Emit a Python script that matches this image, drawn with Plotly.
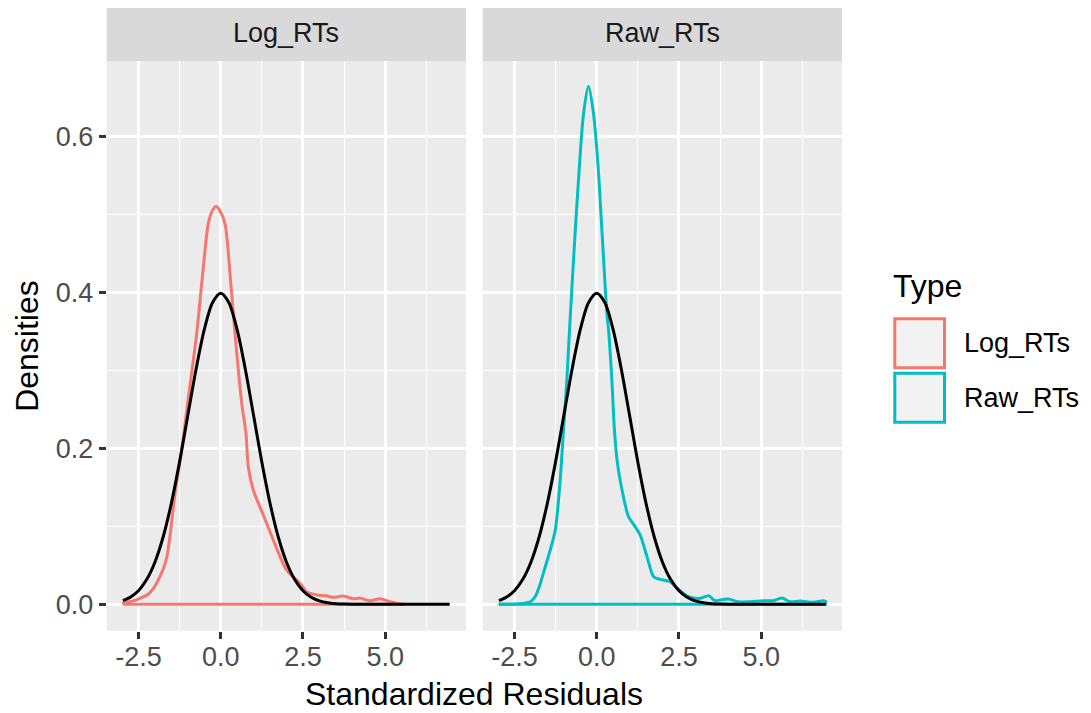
import plotly.graph_objects as go

# page body has an 8px margin: the paper is laid out in reference pixels minus OFF
OFF = 8
W, H = 1091 - OFF, 713 - OFF

# ---------------- data ----------------
panels = ["Log_RTs", "Raw_RTs"]
x_tick_vals = [-2.5, 0.0, 2.5, 5.0]
x_tick_text = ["-2.5", "0.0", "2.5", "5.0"]
x_minor_vals = [-1.25, 1.25, 3.75, 6.25]
y_tick_vals = [0.0, 0.2, 0.4, 0.6]
y_tick_text = ["0.0", "0.2", "0.4", "0.6"]
y_minor_vals = [0.1, 0.3, 0.5]

# Log_RTs density
log_x = [-2.97, -2.96, -2.6, -2.35, -2.2, -2.05, -1.9, -1.75, -1.64, -1.54, -1.39,
         -1.185, -0.985, -0.73, -0.547, -0.377, -0.25, -0.143, -0.03, 0.13, 0.283,
         0.435, 0.638, 0.769, 0.84, 0.99, 1.295, 1.6, 2.0, 2.31, 2.45, 2.61, 2.92,
         3.2, 3.42, 3.73, 4.03, 4.23, 4.54, 4.84, 5.15, 5.45, 5.6]
log_y = [0.0, 0.0013, 0.005, 0.0097, 0.013, 0.02, 0.031, 0.045, 0.060, 0.088, 0.142,
         0.198, 0.264, 0.347, 0.424, 0.488, 0.505, 0.510, 0.505, 0.488, 0.424,
         0.347, 0.258, 0.219, 0.176, 0.1465, 0.1145, 0.0824, 0.044, 0.031, 0.025, 0.016, 0.012,
         0.011, 0.009, 0.0106, 0.0072, 0.008, 0.0046, 0.0072, 0.0033, 0.0004, 0.0]
log_base_x = [-2.97, 5.6]

# Raw_RTs density
raw_x = [-2.98, -2.43, -2.2, -2.02, -1.87, -1.75, -1.62, -1.41, -1.26, -1.11, -1.01,
         -0.906, -0.826, -0.65, -0.52, -0.40, -0.25, -0.097, 0.036, 0.158, 0.31,
         0.36, 0.46, 0.54, 0.63, 0.77, 0.97, 1.17, 1.32, 1.53, 1.73, 1.93, 2.23,
         2.44, 2.74, 2.95, 3.15, 3.40, 3.6, 3.8, 4.0, 4.31, 4.67, 5.07, 5.37, 5.63,
         5.88, 6.19, 6.59, 6.89, 7.0]
raw_y = [0.0, 0.0004, 0.0015, 0.0033, 0.0097, 0.022, 0.040, 0.070, 0.095, 0.159, 0.223,
         0.288, 0.352, 0.48, 0.565, 0.629, 0.664, 0.629, 0.565, 0.48, 0.373,
         0.352, 0.288, 0.223, 0.181, 0.1465, 0.112, 0.0995, 0.089, 0.061, 0.0354, 0.032, 0.029,
         0.021, 0.011, 0.008, 0.0077, 0.011, 0.0046, 0.006, 0.0068, 0.0033, 0.0033, 0.0046, 0.0046, 0.008,
         0.0033, 0.0042, 0.0026, 0.0046, 0.003]
raw_base_x = [-2.98, 7.0]

# reference standard-normal curve (black), values read at these x
norm_x = [-2.97, -2.75, -2.5, -2.25, -2.0, -1.75, -1.5, -1.25, -1.0, -0.75, -0.5, -0.25,
          0.0, 0.25, 0.5, 0.75, 1.0, 1.25, 1.5, 1.75, 2.0, 2.25, 2.5, 2.75, 3.0, 3.25,
          3.5, 3.75, 4.0, 4.5, 5.0, 6.0, 6.96]
norm_y = [0.0048, 0.0091, 0.0175, 0.0317, 0.0540, 0.0863, 0.1295, 0.1826, 0.2420, 0.3011,
          0.3521, 0.3867, 0.3989, 0.3867, 0.3521, 0.3011, 0.2420, 0.1826, 0.1295, 0.0863,
          0.0540, 0.0317, 0.0175, 0.0091, 0.0044, 0.0020, 0.0009, 0.00035, 0.00013,
          0.00002, 0.0, 0.0, 0.0]

legend_title = "Type"
colors = {"Log_RTs": "#F8766D", "Raw_RTs": "#00BFC4"}

# ---------------- figure ----------------
FONT = "Liberation Sans, Arial, Helvetica, sans-serif"
LW = 3
SMALL = 27
BIG = 32


def px(x):
    return (x - OFF) / W


def py(y):
    return 1 - (y - OFF) / H


fig = go.Figure()

# Log panel
fig.add_trace(go.Scatter(x=log_base_x, y=[0, 0], mode="lines", line=dict(color=colors["Log_RTs"], width=LW),
                         xaxis="x", yaxis="y", showlegend=False, hoverinfo="skip"))
fig.add_trace(go.Scatter(x=log_x, y=log_y, mode="lines", line=dict(color=colors["Log_RTs"], width=LW,
                         shape="spline", smoothing=0.8), xaxis="x", yaxis="y", showlegend=False))
fig.add_trace(go.Scatter(x=norm_x, y=norm_y, mode="lines", line=dict(color="black", width=LW,
                         shape="spline", smoothing=0.8), xaxis="x", yaxis="y", showlegend=False))
# Raw panel
fig.add_trace(go.Scatter(x=raw_base_x, y=[0, 0], mode="lines", line=dict(color=colors["Raw_RTs"], width=LW),
                         xaxis="x2", yaxis="y2", showlegend=False, hoverinfo="skip"))
fig.add_trace(go.Scatter(x=raw_x, y=raw_y, mode="lines", line=dict(color=colors["Raw_RTs"], width=LW,
                         shape="spline", smoothing=0.8), xaxis="x2", yaxis="y2", showlegend=False))
fig.add_trace(go.Scatter(x=norm_x, y=norm_y, mode="lines", line=dict(color="black", width=LW,
                         shape="spline", smoothing=0.8), xaxis="x2", yaxis="y2", showlegend=False))

x_range = [-3.465, 7.456]
y_range = [-0.0338, 0.6965]

panel_left = [106.7, 482.7]
panel_right = [466.0, 842.0]
panel_top, panel_bottom = 61.0, 630.7
strip_top = 6.0

TICK_FONT = dict(family=FONT, size=SMALL, color="#4D4D4D")


def xaxis_cfg(i):
    return dict(domain=[px(panel_left[i]), px(panel_right[i])], range=x_range,
                anchor="y" if i == 0 else "y2",
                tickmode="array", tickvals=x_tick_vals, ticktext=x_tick_text,
                ticks="outside", ticklen=7, tickwidth=2.5, tickcolor="#333333",
                ticklabelstandoff=-5,
                tickfont=TICK_FONT, showgrid=True, gridcolor="white", gridwidth=2.6,
                minor=dict(tickvals=x_minor_vals, showgrid=True, gridcolor="white", gridwidth=1.3, ticks=""),
                zeroline=False, showline=False, fixedrange=True)


def yaxis_cfg(i):
    return dict(domain=[py(panel_bottom), py(panel_top)], range=y_range,
                anchor="x" if i == 0 else "x2",
                tickmode="array", tickvals=y_tick_vals, ticktext=y_tick_text,
                ticks="outside" if i == 0 else "", ticklen=7, tickwidth=2.5, tickcolor="#333333",
                showticklabels=(i == 0),
                tickfont=TICK_FONT, showgrid=True, gridcolor="white", gridwidth=2.6,
                minor=dict(tickvals=y_minor_vals, showgrid=True, gridcolor="white", gridwidth=1.3, ticks=""),
                zeroline=False, showline=False, fixedrange=True)


shapes = []
annotations = []
for i, name in enumerate(panels):
    shapes.append(dict(type="rect", xref="paper", yref="paper", layer="below",
                       x0=px(panel_left[i]), x1=px(panel_right[i]), y0=py(panel_bottom), y1=py(panel_top),
                       fillcolor="#EBEBEB", line=dict(width=0)))
    shapes.append(dict(type="rect", xref="paper", yref="paper",
                       x0=px(panel_left[i]), x1=px(panel_right[i]), y0=py(panel_top), y1=py(strip_top),
                       fillcolor="#D9D9D9", line=dict(width=0)))
    annotations.append(dict(text=name, xref="paper", yref="paper", showarrow=False,
                            x=px((panel_left[i] + panel_right[i]) / 2), y=py((panel_top + strip_top) / 2),
                            xanchor="center", yanchor="middle",
                            font=dict(family=FONT, size=SMALL, color="#1A1A1A")))

annotations.append(dict(text="Standardized Residuals", xref="paper", yref="paper", showarrow=False,
                        x=px((panel_left[0] + panel_right[1]) / 2), y=py(694), xanchor="center", yanchor="middle",
                        font=dict(family=FONT, size=BIG, color="black")))
annotations.append(dict(text="Densities", xref="paper", yref="paper", showarrow=False, textangle=-90,
                        x=px(27), y=py((panel_top + panel_bottom) / 2), xanchor="center", yanchor="middle",
                        font=dict(family=FONT, size=BIG, color="black")))

# legend (drawn manually to reproduce ggplot's boxed keys)
annotations.append(dict(text=legend_title, xref="paper", yref="paper", showarrow=False,
                        x=px(891), y=py(286), xanchor="left", yanchor="middle",
                        font=dict(family=FONT, size=BIG, color="black")))
key_tops = [317.3, 371.7]
for i, name in enumerate(panels):
    t = key_tops[i]
    shapes.append(dict(type="rect", xref="paper", yref="paper",
                       x0=px(894.8), x1=px(944.5), y0=py(t + 50.5), y1=py(t + 1.5),
                       fillcolor="#F2F2F2", line=dict(color=colors[name], width=3)))
    annotations.append(dict(text=name, xref="paper", yref="paper", showarrow=False,
                            x=px(962), y=py(t + 26), xanchor="left", yanchor="middle",
                            font=dict(family=FONT, size=SMALL, color="black")))

fig.update_layout(
    width=W, height=H, autosize=False,
    margin=dict(l=0, r=0, t=0, b=0),
    paper_bgcolor="white", plot_bgcolor="rgba(0,0,0,0)",
    xaxis=xaxis_cfg(0), xaxis2=xaxis_cfg(1),
    yaxis=yaxis_cfg(0), yaxis2=yaxis_cfg(1),
    shapes=shapes, annotations=annotations,
    showlegend=False,
)

fig.write_html("out.html", config={"displayModeBar": False})
